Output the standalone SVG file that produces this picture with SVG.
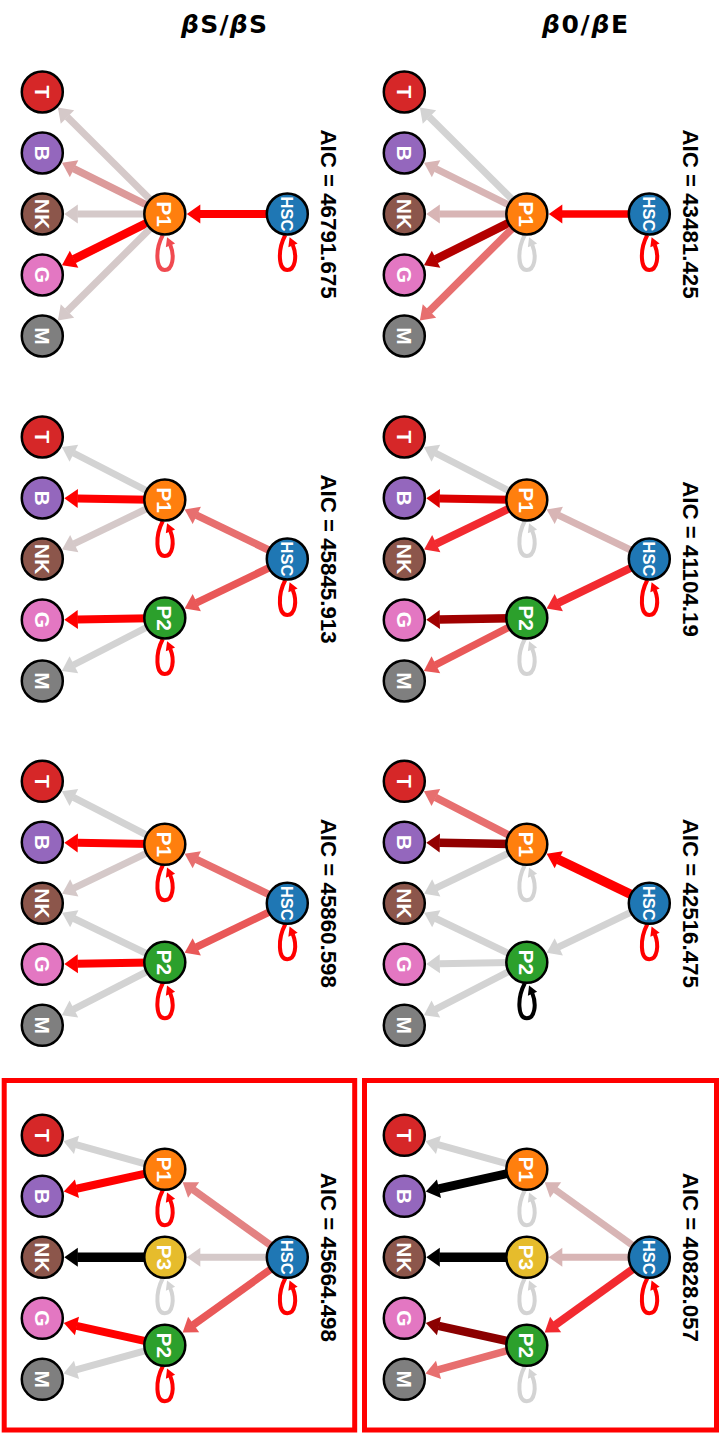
<svg xmlns="http://www.w3.org/2000/svg" width="724" height="1433" viewBox="0 0 724 1433">
<style>
  text{font-family:"Liberation Sans",Arial,Helvetica,sans-serif}
  .hdr{font-family:"DejaVu Sans",sans-serif;font-size:25px;font-weight:bold;text-anchor:middle;fill:#000}
  .aic{font-size:22.3px;font-weight:bold;text-anchor:middle;fill:#000}
  .lbl{font-size:21px;font-weight:bold;text-anchor:middle;fill:#fff}
  .lbl.hs{font-size:16.5px}
  .nd{stroke:#000;stroke-width:2.5}
  .hsc{fill:#1f77b4}.p1{fill:#ff7f0e}.p2{fill:#2ca02c}.p3{fill:#e6bc2c}
  .t{fill:#d62728}.b{fill:#9467bd}.nk{fill:#8c564b}.g{fill:#e377c2}.m{fill:#7f7f7f}
  .e{fill:none;stroke-linecap:butt}
  .w7{stroke-width:7}.w75{stroke-width:7.5}.w8{stroke-width:8}.w85{stroke-width:8.5}.w9{stroke-width:9}.w95{stroke-width:9.5}
  .e-gy{stroke:#d3d3d3;marker-end:url(#m-gy)}
  .e-pg{stroke:#d8b5b5;marker-end:url(#m-pg)}
  .e-pg2{stroke:#d5c9c9;marker-end:url(#m-pg2)}
  .e-pk{stroke:#dc9a9a;marker-end:url(#m-pk)}
  .e-lr{stroke:#e76f6f;marker-end:url(#m-lr)}
  .e-lr2{stroke:#e38282;marker-end:url(#m-lr2)}
  .e-mr{stroke:#e95858;marker-end:url(#m-mr)}
  .e-br{stroke:#f22a30;marker-end:url(#m-br)}
  .e-r{stroke:#ff0000;marker-end:url(#m-r)}
  .e-d1{stroke:#b30000;marker-end:url(#m-d1)}
  .e-d2{stroke:#dc0000;marker-end:url(#m-d2)}
  .e-d3{stroke:#a00000;marker-end:url(#m-d3)}
  .e-d4{stroke:#920000;marker-end:url(#m-d4)}
  .e-d5{stroke:#8b0000;marker-end:url(#m-d5)}
  .e-k{stroke:#000000;marker-end:url(#m-k)}
  .lp{fill:none;stroke-width:4}
  .l-r{stroke:#ff0000;marker-end:url(#ml-r)}
  .l-lr{stroke:#f04a50;marker-end:url(#ml-lr)}
  .l-gy{stroke:#d3d3d3;marker-end:url(#ml-gy)}
  .l-k{stroke:#000000;marker-end:url(#ml-k)}
  .box{fill:none;stroke:#ff0000;stroke-width:5}
</style>
<defs>
  <!-- edge arrowheads: base sits on the path end, tip 13px further on -->
  <marker id="m-gy" markerUnits="userSpaceOnUse" viewBox="-1 -11 15 22" markerWidth="15" markerHeight="22" refX="0" refY="0" orient="auto" overflow="visible"><path d="M-0.5,-9.5 L13,0 L-0.5,9.5 Z" fill="#d3d3d3"/></marker>
  <marker id="m-pg" markerUnits="userSpaceOnUse" viewBox="-1 -11 15 22" markerWidth="15" markerHeight="22" refX="0" refY="0" orient="auto" overflow="visible"><path d="M-0.5,-9.5 L13,0 L-0.5,9.5 Z" fill="#d8b5b5"/></marker>
  <marker id="m-pg2" markerUnits="userSpaceOnUse" viewBox="-1 -11 15 22" markerWidth="15" markerHeight="22" refX="0" refY="0" orient="auto" overflow="visible"><path d="M-0.5,-9.5 L13,0 L-0.5,9.5 Z" fill="#d5c9c9"/></marker>
  <marker id="m-pk" markerUnits="userSpaceOnUse" viewBox="-1 -11 15 22" markerWidth="15" markerHeight="22" refX="0" refY="0" orient="auto" overflow="visible"><path d="M-0.5,-9.5 L13,0 L-0.5,9.5 Z" fill="#dc9a9a"/></marker>
  <marker id="m-lr" markerUnits="userSpaceOnUse" viewBox="-1 -11 15 22" markerWidth="15" markerHeight="22" refX="0" refY="0" orient="auto" overflow="visible"><path d="M-0.5,-9.5 L13,0 L-0.5,9.5 Z" fill="#e76f6f"/></marker>
  <marker id="m-lr2" markerUnits="userSpaceOnUse" viewBox="-1 -11 15 22" markerWidth="15" markerHeight="22" refX="0" refY="0" orient="auto" overflow="visible"><path d="M-0.5,-9.5 L13,0 L-0.5,9.5 Z" fill="#e38282"/></marker>
  <marker id="m-mr" markerUnits="userSpaceOnUse" viewBox="-1 -11 15 22" markerWidth="15" markerHeight="22" refX="0" refY="0" orient="auto" overflow="visible"><path d="M-0.5,-9.5 L13,0 L-0.5,9.5 Z" fill="#e95858"/></marker>
  <marker id="m-br" markerUnits="userSpaceOnUse" viewBox="-1 -11 15 22" markerWidth="15" markerHeight="22" refX="0" refY="0" orient="auto" overflow="visible"><path d="M-0.5,-9.5 L13,0 L-0.5,9.5 Z" fill="#f22a30"/></marker>
  <marker id="m-r" markerUnits="userSpaceOnUse" viewBox="-1 -11 15 22" markerWidth="15" markerHeight="22" refX="0" refY="0" orient="auto" overflow="visible"><path d="M-0.5,-9.5 L13,0 L-0.5,9.5 Z" fill="#ff0000"/></marker>
  <marker id="m-d1" markerUnits="userSpaceOnUse" viewBox="-1 -11 15 22" markerWidth="15" markerHeight="22" refX="0" refY="0" orient="auto" overflow="visible"><path d="M-0.5,-9.5 L13,0 L-0.5,9.5 Z" fill="#b30000"/></marker>
  <marker id="m-d2" markerUnits="userSpaceOnUse" viewBox="-1 -11 15 22" markerWidth="15" markerHeight="22" refX="0" refY="0" orient="auto" overflow="visible"><path d="M-0.5,-9.5 L13,0 L-0.5,9.5 Z" fill="#dc0000"/></marker>
  <marker id="m-d3" markerUnits="userSpaceOnUse" viewBox="-1 -11 15 22" markerWidth="15" markerHeight="22" refX="0" refY="0" orient="auto" overflow="visible"><path d="M-0.5,-9.5 L13,0 L-0.5,9.5 Z" fill="#a00000"/></marker>
  <marker id="m-d4" markerUnits="userSpaceOnUse" viewBox="-1 -11 15 22" markerWidth="15" markerHeight="22" refX="0" refY="0" orient="auto" overflow="visible"><path d="M-0.5,-9.5 L13,0 L-0.5,9.5 Z" fill="#920000"/></marker>
  <marker id="m-d5" markerUnits="userSpaceOnUse" viewBox="-1 -11 15 22" markerWidth="15" markerHeight="22" refX="0" refY="0" orient="auto" overflow="visible"><path d="M-0.5,-9.5 L13,0 L-0.5,9.5 Z" fill="#8b0000"/></marker>
  <marker id="m-k" markerUnits="userSpaceOnUse" viewBox="-1 -11 15 22" markerWidth="15" markerHeight="22" refX="0" refY="0" orient="auto" overflow="visible"><path d="M-0.5,-9.5 L13,0 L-0.5,9.5 Z" fill="#000000"/></marker>
  <!-- self-loop arrowheads -->
  <marker id="ml-r" markerUnits="userSpaceOnUse" viewBox="-1 -6 11 12" markerWidth="11" markerHeight="12" refX="0" refY="0" orient="auto" overflow="visible"><path d="M-0.5,-5 L8.5,0 L-0.5,5 Z" fill="#ff0000"/></marker>
  <marker id="ml-lr" markerUnits="userSpaceOnUse" viewBox="-1 -6 11 12" markerWidth="11" markerHeight="12" refX="0" refY="0" orient="auto" overflow="visible"><path d="M-0.5,-5 L8.5,0 L-0.5,5 Z" fill="#f04a50"/></marker>
  <marker id="ml-gy" markerUnits="userSpaceOnUse" viewBox="-1 -6 11 12" markerWidth="11" markerHeight="12" refX="0" refY="0" orient="auto" overflow="visible"><path d="M-0.5,-5 L8.5,0 L-0.5,5 Z" fill="#d3d3d3"/></marker>
  <marker id="ml-k" markerUnits="userSpaceOnUse" viewBox="-1 -6 11 12" markerWidth="11" markerHeight="12" refX="0" refY="0" orient="auto" overflow="visible"><path d="M-0.5,-5 L8.5,0 L-0.5,5 Z" fill="#000000"/></marker>
  <path id="loop" d="M-2,21 C-10,36 -9,56 0,56 C8,56 10,42 5.5,31"/>
</defs>

<rect width="724" height="1433" fill="#fff"/>

<!-- column headers -->
<text class="hdr" x="585" y="33" textLength="86" lengthAdjust="spacing"><tspan font-style="italic">β</tspan>0/<tspan font-style="italic">β</tspan>E</text>
<text class="hdr" x="224" y="33" textLength="86" lengthAdjust="spacing"><tspan font-style="italic">β</tspan>S/<tspan font-style="italic">β</tspan>S</text>

<!-- highlight boxes around the selected models -->
<rect class="box" x="364.5" y="1080.5" width="352" height="349.5"/>
<rect class="box" x="4.2" y="1080.5" width="350.5" height="349.5"/>

<!-- ===== β0/βE, model 1 ===== -->
<g id="b0e-1" transform="translate(649.3,214)">
  <text class="aic" transform="translate(34,0) rotate(90)">AIC = 43481.425</text>
  <g id="b0e-1-links">
    <path class="e e-r w75" d="M0,0 L-87.5,0"/>
    <path class="e e-gy w7" d="M-122.5,0 L-220.2,-97.3"/>
    <path class="e e-pg w7" d="M-122.5,0 L-213.67,-45.4"/>
    <path class="e e-pg w7" d="M-122.5,0 L-210,0"/>
    <path class="e e-d1 w85" d="M-122.5,0 L-213.67,45.4"/>
    <path class="e e-lr w75" d="M-122.5,0 L-220.2,97.3"/>
    <use href="#loop" class="lp l-r"/>
    <use href="#loop" class="lp l-gy" x="-122.5" y="0"/>
  </g>
  <g id="b0e-1-hsc"><circle class="nd hsc" r="20.5"/><text class="lbl hs" transform="rotate(90)" y="5.9">HSC</text></g>
  <g id="b0e-1-p1" transform="translate(-122.5,0)"><circle class="nd p1" r="20.5"/><text class="lbl" transform="rotate(90)" y="7.5">P1</text></g>
  <g id="b0e-1-t" transform="translate(-245,-122)"><circle class="nd t" r="20.5"/><text class="lbl" transform="rotate(90)" y="7.5">T</text></g>
  <g id="b0e-1-b" transform="translate(-245,-61)"><circle class="nd b" r="20.5"/><text class="lbl" transform="rotate(90)" y="7.5">B</text></g>
  <g id="b0e-1-nk" transform="translate(-245,0)"><circle class="nd nk" r="20.5"/><text class="lbl" transform="rotate(90)" y="7.5">NK</text></g>
  <g id="b0e-1-g" transform="translate(-245,61)"><circle class="nd g" r="20.5"/><text class="lbl" transform="rotate(90)" y="7.5">G</text></g>
  <g id="b0e-1-m" transform="translate(-245,122)"><circle class="nd m" r="20.5"/><text class="lbl" transform="rotate(90)" y="7.5">M</text></g>
</g>

<!-- ===== β0/βE, model 2 ===== -->
<g id="b0e-2" transform="translate(649.3,559)">
  <text class="aic" transform="translate(34,0) rotate(90)">AIC = 41104.19</text>
  <g id="b0e-2-links">
    <path class="e e-pg w7" d="M0,0 L-90.97,-43.81"/>
    <path class="e e-br w8" d="M0,0 L-90.97,43.81"/>
    <path class="e e-gy w7" d="M-122.5,-59 L-213.88,-105.99"/>
    <path class="e e-d2 w8" d="M-122.5,-59 L-210,-60.43"/>
    <path class="e e-br w8" d="M-122.5,-59 L-213.47,-15.19"/>
    <path class="e e-d3 w85" d="M-122.5,59 L-210,60.43"/>
    <path class="e e-mr w75" d="M-122.5,59 L-213.88,105.99"/>
    <use href="#loop" class="lp l-r"/>
    <use href="#loop" class="lp l-gy" x="-122.5" y="-59"/>
    <use href="#loop" class="lp l-gy" x="-122.5" y="59"/>
  </g>
  <g id="b0e-2-hsc"><circle class="nd hsc" r="20.5"/><text class="lbl hs" transform="rotate(90)" y="5.9">HSC</text></g>
  <g id="b0e-2-p1" transform="translate(-122.5,-59)"><circle class="nd p1" r="20.5"/><text class="lbl" transform="rotate(90)" y="7.5">P1</text></g>
  <g id="b0e-2-p2" transform="translate(-122.5,59)"><circle class="nd p2" r="20.5"/><text class="lbl" transform="rotate(90)" y="7.5">P2</text></g>
  <g id="b0e-2-t" transform="translate(-245,-122)"><circle class="nd t" r="20.5"/><text class="lbl" transform="rotate(90)" y="7.5">T</text></g>
  <g id="b0e-2-b" transform="translate(-245,-61)"><circle class="nd b" r="20.5"/><text class="lbl" transform="rotate(90)" y="7.5">B</text></g>
  <g id="b0e-2-nk" transform="translate(-245,0)"><circle class="nd nk" r="20.5"/><text class="lbl" transform="rotate(90)" y="7.5">NK</text></g>
  <g id="b0e-2-g" transform="translate(-245,61)"><circle class="nd g" r="20.5"/><text class="lbl" transform="rotate(90)" y="7.5">G</text></g>
  <g id="b0e-2-m" transform="translate(-245,122)"><circle class="nd m" r="20.5"/><text class="lbl" transform="rotate(90)" y="7.5">M</text></g>
</g>

<!-- ===== β0/βE, model 3 ===== -->
<g id="b0e-3" transform="translate(649.3,903.3)">
  <text class="aic" transform="translate(34,0) rotate(90)">AIC = 42516.475</text>
  <g id="b0e-3-links">
    <path class="e e-r w95" d="M0,0 L-90.97,-43.81"/>
    <path class="e e-gy w7" d="M0,0 L-90.97,43.81"/>
    <path class="e e-lr w75" d="M-122.5,-59 L-213.88,-105.99"/>
    <path class="e e-d4 w85" d="M-122.5,-59 L-210,-60.43"/>
    <path class="e e-gy w7" d="M-122.5,-59 L-213.47,-15.19"/>
    <path class="e e-gy w7" d="M-122.5,59 L-213.47,15.19"/>
    <path class="e e-gy w7" d="M-122.5,59 L-210,60.43"/>
    <path class="e e-gy w7" d="M-122.5,59 L-213.88,105.99"/>
    <use href="#loop" class="lp l-r"/>
    <use href="#loop" class="lp l-gy" x="-122.5" y="-59"/>
    <use href="#loop" class="lp l-k" x="-122.5" y="59"/>
  </g>
  <g id="b0e-3-hsc"><circle class="nd hsc" r="20.5"/><text class="lbl hs" transform="rotate(90)" y="5.9">HSC</text></g>
  <g id="b0e-3-p1" transform="translate(-122.5,-59)"><circle class="nd p1" r="20.5"/><text class="lbl" transform="rotate(90)" y="7.5">P1</text></g>
  <g id="b0e-3-p2" transform="translate(-122.5,59)"><circle class="nd p2" r="20.5"/><text class="lbl" transform="rotate(90)" y="7.5">P2</text></g>
  <g id="b0e-3-t" transform="translate(-245,-122)"><circle class="nd t" r="20.5"/><text class="lbl" transform="rotate(90)" y="7.5">T</text></g>
  <g id="b0e-3-b" transform="translate(-245,-61)"><circle class="nd b" r="20.5"/><text class="lbl" transform="rotate(90)" y="7.5">B</text></g>
  <g id="b0e-3-nk" transform="translate(-245,0)"><circle class="nd nk" r="20.5"/><text class="lbl" transform="rotate(90)" y="7.5">NK</text></g>
  <g id="b0e-3-g" transform="translate(-245,61)"><circle class="nd g" r="20.5"/><text class="lbl" transform="rotate(90)" y="7.5">G</text></g>
  <g id="b0e-3-m" transform="translate(-245,122)"><circle class="nd m" r="20.5"/><text class="lbl" transform="rotate(90)" y="7.5">M</text></g>
</g>

<!-- ===== β0/βE, model 4 ===== -->
<g id="b0e-4" transform="translate(649.3,1257.3)">
  <text class="aic" transform="translate(34,0) rotate(90)">AIC = 40828.057</text>
  <g id="b0e-4-links">
    <path class="e e-pg w7" d="M0,0 L-94.07,-67.58"/>
    <path class="e e-pg w7" d="M0,0 L-87.5,0"/>
    <path class="e e-br w8" d="M0,0 L-94.07,67.58"/>
    <path class="e e-gy w7" d="M-122.5,-88 L-211.27,-112.64"/>
    <path class="e e-k w9" d="M-122.5,-88 L-210.82,-68.53"/>
    <path class="e e-k w95" d="M-122.5,0 L-210,0"/>
    <path class="e e-d5 w85" d="M-122.5,88 L-210.82,68.53"/>
    <path class="e e-lr w75" d="M-122.5,88 L-211.27,112.64"/>
    <use href="#loop" class="lp l-r"/>
    <use href="#loop" class="lp l-gy" x="-122.5" y="-88"/>
    <use href="#loop" class="lp l-gy" x="-122.5" y="0"/>
    <use href="#loop" class="lp l-gy" x="-122.5" y="88"/>
  </g>
  <g id="b0e-4-hsc"><circle class="nd hsc" r="20.5"/><text class="lbl hs" transform="rotate(90)" y="5.9">HSC</text></g>
  <g id="b0e-4-p1" transform="translate(-122.5,-88)"><circle class="nd p1" r="20.5"/><text class="lbl" transform="rotate(90)" y="7.5">P1</text></g>
  <g id="b0e-4-p3" transform="translate(-122.5,0)"><circle class="nd p3" r="20.5"/><text class="lbl" transform="rotate(90)" y="7.5">P3</text></g>
  <g id="b0e-4-p2" transform="translate(-122.5,88)"><circle class="nd p2" r="20.5"/><text class="lbl" transform="rotate(90)" y="7.5">P2</text></g>
  <g id="b0e-4-t" transform="translate(-245,-122)"><circle class="nd t" r="20.5"/><text class="lbl" transform="rotate(90)" y="7.5">T</text></g>
  <g id="b0e-4-b" transform="translate(-245,-61)"><circle class="nd b" r="20.5"/><text class="lbl" transform="rotate(90)" y="7.5">B</text></g>
  <g id="b0e-4-nk" transform="translate(-245,0)"><circle class="nd nk" r="20.5"/><text class="lbl" transform="rotate(90)" y="7.5">NK</text></g>
  <g id="b0e-4-g" transform="translate(-245,61)"><circle class="nd g" r="20.5"/><text class="lbl" transform="rotate(90)" y="7.5">G</text></g>
  <g id="b0e-4-m" transform="translate(-245,122)"><circle class="nd m" r="20.5"/><text class="lbl" transform="rotate(90)" y="7.5">M</text></g>
</g>

<!-- ===== βS/βS, model 1 ===== -->
<g id="bss-1" transform="translate(287.3,214)">
  <text class="aic" transform="translate(34,0) rotate(90)">AIC = 46791.675</text>
  <g id="bss-1-links">
    <path class="e e-r w8" d="M0,0 L-87.5,0"/>
    <path class="e e-pg2 w7" d="M-122.5,0 L-220.2,-97.3"/>
    <path class="e e-pk w75" d="M-122.5,0 L-213.67,-45.4"/>
    <path class="e e-pg2 w7" d="M-122.5,0 L-210,0"/>
    <path class="e e-r w85" d="M-122.5,0 L-213.67,45.4"/>
    <path class="e e-pg2 w7" d="M-122.5,0 L-220.2,97.3"/>
    <use href="#loop" class="lp l-r"/>
    <use href="#loop" class="lp l-lr" x="-122.5" y="0"/>
  </g>
  <g id="bss-1-hsc"><circle class="nd hsc" r="20.5"/><text class="lbl hs" transform="rotate(90)" y="5.9">HSC</text></g>
  <g id="bss-1-p1" transform="translate(-122.5,0)"><circle class="nd p1" r="20.5"/><text class="lbl" transform="rotate(90)" y="7.5">P1</text></g>
  <g id="bss-1-t" transform="translate(-245,-122)"><circle class="nd t" r="20.5"/><text class="lbl" transform="rotate(90)" y="7.5">T</text></g>
  <g id="bss-1-b" transform="translate(-245,-61)"><circle class="nd b" r="20.5"/><text class="lbl" transform="rotate(90)" y="7.5">B</text></g>
  <g id="bss-1-nk" transform="translate(-245,0)"><circle class="nd nk" r="20.5"/><text class="lbl" transform="rotate(90)" y="7.5">NK</text></g>
  <g id="bss-1-g" transform="translate(-245,61)"><circle class="nd g" r="20.5"/><text class="lbl" transform="rotate(90)" y="7.5">G</text></g>
  <g id="bss-1-m" transform="translate(-245,122)"><circle class="nd m" r="20.5"/><text class="lbl" transform="rotate(90)" y="7.5">M</text></g>
</g>

<!-- ===== βS/βS, model 2 ===== -->
<g id="bss-2" transform="translate(287.3,559)">
  <text class="aic" transform="translate(34,0) rotate(90)">AIC = 45845.913</text>
  <g id="bss-2-links">
    <path class="e e-lr w75" d="M0,0 L-90.97,-43.81"/>
    <path class="e e-mr w75" d="M0,0 L-90.97,43.81"/>
    <path class="e e-gy w7" d="M-122.5,-59 L-213.88,-105.99"/>
    <path class="e e-r w8" d="M-122.5,-59 L-210,-60.43"/>
    <path class="e e-pg2 w7" d="M-122.5,-59 L-213.47,-15.19"/>
    <path class="e e-r w8" d="M-122.5,59 L-210,60.43"/>
    <path class="e e-gy w7" d="M-122.5,59 L-213.88,105.99"/>
    <use href="#loop" class="lp l-r"/>
    <use href="#loop" class="lp l-r" x="-122.5" y="-59"/>
    <use href="#loop" class="lp l-r" x="-122.5" y="59"/>
  </g>
  <g id="bss-2-hsc"><circle class="nd hsc" r="20.5"/><text class="lbl hs" transform="rotate(90)" y="5.9">HSC</text></g>
  <g id="bss-2-p1" transform="translate(-122.5,-59)"><circle class="nd p1" r="20.5"/><text class="lbl" transform="rotate(90)" y="7.5">P1</text></g>
  <g id="bss-2-p2" transform="translate(-122.5,59)"><circle class="nd p2" r="20.5"/><text class="lbl" transform="rotate(90)" y="7.5">P2</text></g>
  <g id="bss-2-t" transform="translate(-245,-122)"><circle class="nd t" r="20.5"/><text class="lbl" transform="rotate(90)" y="7.5">T</text></g>
  <g id="bss-2-b" transform="translate(-245,-61)"><circle class="nd b" r="20.5"/><text class="lbl" transform="rotate(90)" y="7.5">B</text></g>
  <g id="bss-2-nk" transform="translate(-245,0)"><circle class="nd nk" r="20.5"/><text class="lbl" transform="rotate(90)" y="7.5">NK</text></g>
  <g id="bss-2-g" transform="translate(-245,61)"><circle class="nd g" r="20.5"/><text class="lbl" transform="rotate(90)" y="7.5">G</text></g>
  <g id="bss-2-m" transform="translate(-245,122)"><circle class="nd m" r="20.5"/><text class="lbl" transform="rotate(90)" y="7.5">M</text></g>
</g>

<!-- ===== βS/βS, model 3 ===== -->
<g id="bss-3" transform="translate(287.3,903.3)">
  <text class="aic" transform="translate(34,0) rotate(90)">AIC = 45860.598</text>
  <g id="bss-3-links">
    <path class="e e-lr w75" d="M0,0 L-90.97,-43.81"/>
    <path class="e e-mr w75" d="M0,0 L-90.97,43.81"/>
    <path class="e e-gy w7" d="M-122.5,-59 L-213.88,-105.99"/>
    <path class="e e-r w8" d="M-122.5,-59 L-210,-60.43"/>
    <path class="e e-pg2 w7" d="M-122.5,-59 L-213.47,-15.19"/>
    <path class="e e-gy w7" d="M-122.5,59 L-213.47,15.19"/>
    <path class="e e-r w8" d="M-122.5,59 L-210,60.43"/>
    <path class="e e-gy w7" d="M-122.5,59 L-213.88,105.99"/>
    <use href="#loop" class="lp l-r"/>
    <use href="#loop" class="lp l-r" x="-122.5" y="-59"/>
    <use href="#loop" class="lp l-r" x="-122.5" y="59"/>
  </g>
  <g id="bss-3-hsc"><circle class="nd hsc" r="20.5"/><text class="lbl hs" transform="rotate(90)" y="5.9">HSC</text></g>
  <g id="bss-3-p1" transform="translate(-122.5,-59)"><circle class="nd p1" r="20.5"/><text class="lbl" transform="rotate(90)" y="7.5">P1</text></g>
  <g id="bss-3-p2" transform="translate(-122.5,59)"><circle class="nd p2" r="20.5"/><text class="lbl" transform="rotate(90)" y="7.5">P2</text></g>
  <g id="bss-3-t" transform="translate(-245,-122)"><circle class="nd t" r="20.5"/><text class="lbl" transform="rotate(90)" y="7.5">T</text></g>
  <g id="bss-3-b" transform="translate(-245,-61)"><circle class="nd b" r="20.5"/><text class="lbl" transform="rotate(90)" y="7.5">B</text></g>
  <g id="bss-3-nk" transform="translate(-245,0)"><circle class="nd nk" r="20.5"/><text class="lbl" transform="rotate(90)" y="7.5">NK</text></g>
  <g id="bss-3-g" transform="translate(-245,61)"><circle class="nd g" r="20.5"/><text class="lbl" transform="rotate(90)" y="7.5">G</text></g>
  <g id="bss-3-m" transform="translate(-245,122)"><circle class="nd m" r="20.5"/><text class="lbl" transform="rotate(90)" y="7.5">M</text></g>
</g>

<!-- ===== βS/βS, model 4 ===== -->
<g id="bss-4" transform="translate(287.3,1257.3)">
  <text class="aic" transform="translate(34,0) rotate(90)">AIC = 45664.498</text>
  <g id="bss-4-links">
    <path class="e e-lr2 w75" d="M0,0 L-94.07,-67.58"/>
    <path class="e e-pg2 w7" d="M0,0 L-87.5,0"/>
    <path class="e e-mr w75" d="M0,0 L-94.07,67.58"/>
    <path class="e e-gy w7" d="M-122.5,-88 L-211.27,-112.64"/>
    <path class="e e-r w8" d="M-122.5,-88 L-210.82,-68.53"/>
    <path class="e e-k w95" d="M-122.5,0 L-210,0"/>
    <path class="e e-r w8" d="M-122.5,88 L-210.82,68.53"/>
    <path class="e e-gy w7" d="M-122.5,88 L-211.27,112.64"/>
    <use href="#loop" class="lp l-r"/>
    <use href="#loop" class="lp l-r" x="-122.5" y="-88"/>
    <use href="#loop" class="lp l-gy" x="-122.5" y="0"/>
    <use href="#loop" class="lp l-r" x="-122.5" y="88"/>
  </g>
  <g id="bss-4-hsc"><circle class="nd hsc" r="20.5"/><text class="lbl hs" transform="rotate(90)" y="5.9">HSC</text></g>
  <g id="bss-4-p1" transform="translate(-122.5,-88)"><circle class="nd p1" r="20.5"/><text class="lbl" transform="rotate(90)" y="7.5">P1</text></g>
  <g id="bss-4-p3" transform="translate(-122.5,0)"><circle class="nd p3" r="20.5"/><text class="lbl" transform="rotate(90)" y="7.5">P3</text></g>
  <g id="bss-4-p2" transform="translate(-122.5,88)"><circle class="nd p2" r="20.5"/><text class="lbl" transform="rotate(90)" y="7.5">P2</text></g>
  <g id="bss-4-t" transform="translate(-245,-122)"><circle class="nd t" r="20.5"/><text class="lbl" transform="rotate(90)" y="7.5">T</text></g>
  <g id="bss-4-b" transform="translate(-245,-61)"><circle class="nd b" r="20.5"/><text class="lbl" transform="rotate(90)" y="7.5">B</text></g>
  <g id="bss-4-nk" transform="translate(-245,0)"><circle class="nd nk" r="20.5"/><text class="lbl" transform="rotate(90)" y="7.5">NK</text></g>
  <g id="bss-4-g" transform="translate(-245,61)"><circle class="nd g" r="20.5"/><text class="lbl" transform="rotate(90)" y="7.5">G</text></g>
  <g id="bss-4-m" transform="translate(-245,122)"><circle class="nd m" r="20.5"/><text class="lbl" transform="rotate(90)" y="7.5">M</text></g>
</g>
</svg>
